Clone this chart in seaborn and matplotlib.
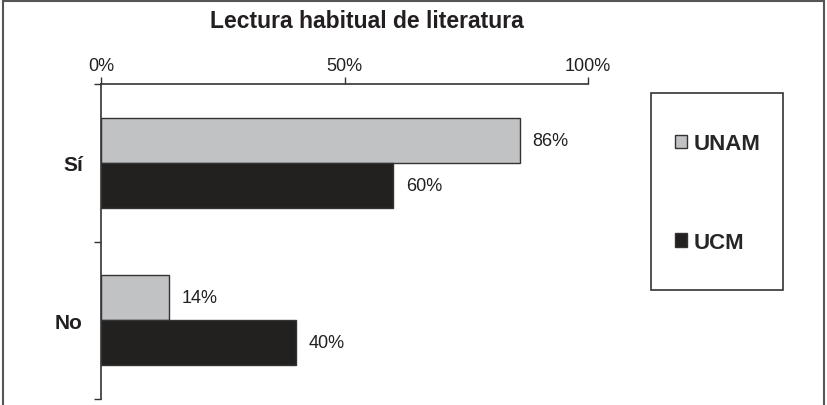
import pandas as pd
import matplotlib.pyplot as plt
import seaborn as sns
from matplotlib.patches import Rectangle

# Datos
categorias = ['Sí', 'No']
universidades = ['UNAM', 'UCM']
unam = [86, 14]
ucm = [60, 40]
ticks_x = [0, 50, 100]
ticks_lbl = ['0%', '50%', '100%']

colores = ['#c1c2c4', '#231f20']
borde = '#333333'

sns.set_style("white")
plt.rcParams['font.family'] = ['Liberation Sans', 'DejaVu Sans']

df = pd.DataFrame({
    'categoria': categorias * 2,
    'valor': unam + ucm,
    'universidad': [universidades[0]] * 2 + [universidades[1]] * 2,
})

fig = plt.figure(figsize=(8.27, 4.06), dpi=100)
ax = fig.add_axes([101 / 827, 1 - 400 / 406, (588 - 101) / 827, (400 - 85) / 406])

sns.barplot(data=df, y='categoria', x='valor', hue='universidad', orient='h',
            palette=colores, width=0.57, edgecolor=borde, linewidth=1,
            order=categorias, hue_order=universidades, ax=ax)

for cont in ax.containers:
    ax.bar_label(cont, labels=[f'{v:.0f}%' for v in cont.datavalues],
                 padding=9, fontsize=13, color='#231f20')

# Ejes
ax.set_xlim(0, 100)
ax.set_ylim(1.5, -0.5)
ax.xaxis.tick_top()
ax.set_xticks(ticks_x)
ax.set_xticklabels(ticks_lbl, fontsize=13, color='#231f20')
ax.tick_params(axis='x', direction='out', length=5, width=1, color=borde, pad=2)
ax.set_yticks([0, 1])
ax.set_yticklabels(categorias, fontsize=15, fontweight='bold', color='#231f20')
ax.tick_params(axis='y', which='major', left=True, length=0, pad=13)
ax.set_yticks([-0.5, 0.5, 1.5], minor=True)
ax.tick_params(axis='y', which='minor', left=True, direction='out', length=5,
               width=1, color=borde)
ax.set_xlabel('')
ax.set_ylabel('')
for s in ['bottom', 'right']:
    ax.spines[s].set_visible(False)
for s in ['top', 'left']:
    ax.spines[s].set_color(borde)
    ax.spines[s].set_linewidth(1.2)

# Leyenda
handles, labels = ax.get_legend_handles_labels()
ax.legend_.remove()
fig.legend(handles, labels, loc='center', bbox_to_anchor=(718 / 827, 1 - 194 / 406),
           frameon=False, prop={'size': 16, 'weight': 'bold'},
           handlelength=0.55, handleheight=0.55, handletextpad=0.3,
           labelspacing=3.5)
fig.patches.append(Rectangle((651 / 827, 1 - 291 / 406), 132 / 827, 197 / 406,
                             transform=fig.transFigure, fill=False,
                             edgecolor=borde, linewidth=1.2))

# Marco exterior
fig.patches.append(Rectangle((3 / 827, -0.05), 821 / 827, 1.05 - 2 / 406,
                             transform=fig.transFigure, fill=False,
                             edgecolor='#555555', linewidth=1.5))

fig.text(367 / 827, 1 - 21 / 406, 'Lectura habitual de literatura',
         ha='center', va='center', fontsize=16.5, fontweight='bold', color='#231f20')

plt.savefig('out.png', dpi=100)
